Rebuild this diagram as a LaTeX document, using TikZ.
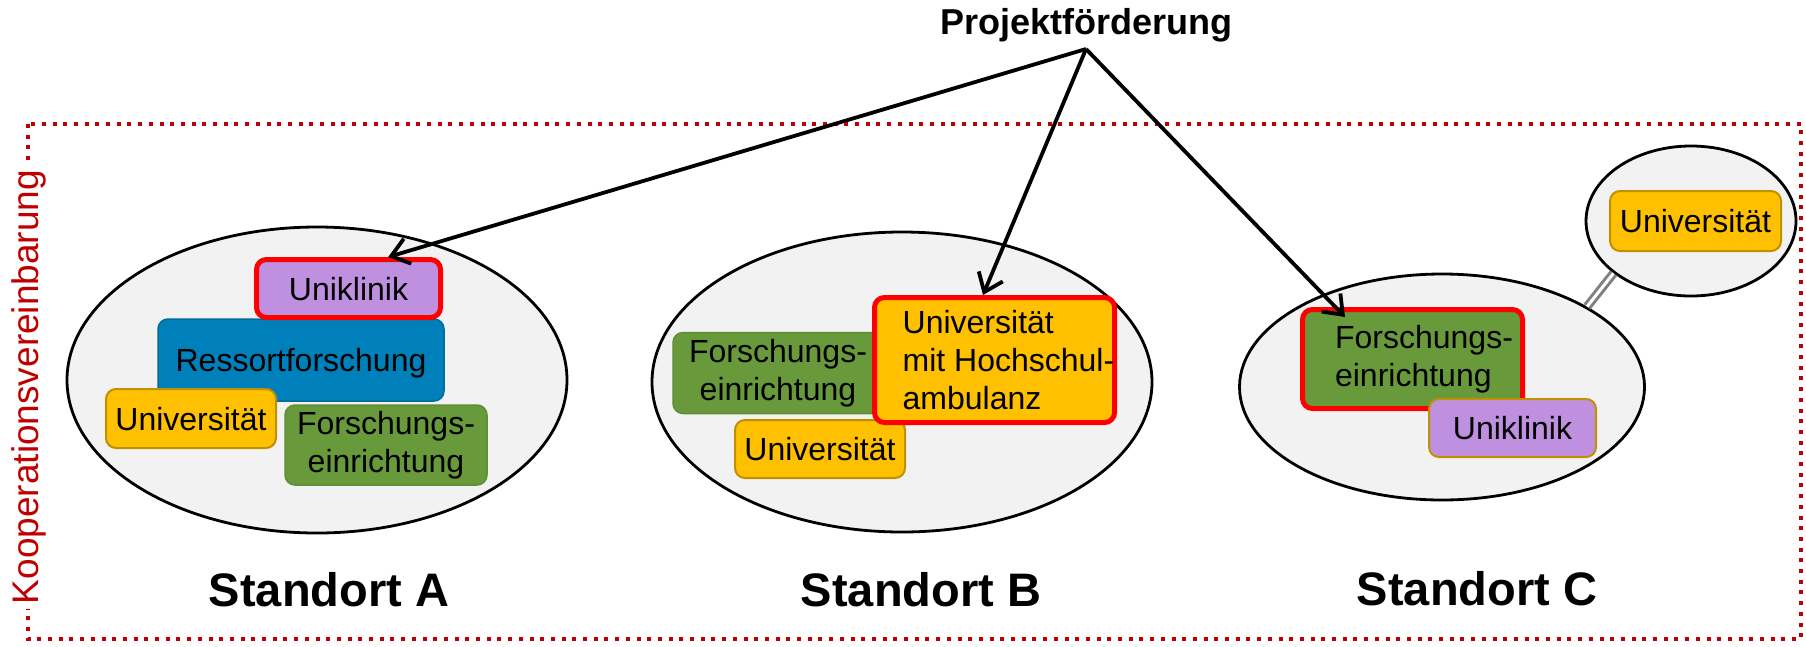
\documentclass[tikz,border=0pt]{standalone}
\usepackage{fontspec}
\setmainfont{Liberation Sans}
\usetikzlibrary{shapes.geometric,arrows.meta,calc}
\definecolor{koopred}{HTML}{C00000}
\definecolor{sitefill}{HTML}{F2F2F2}
\definecolor{uniyellow}{HTML}{FFC000}
\definecolor{uniyellowdark}{HTML}{BF9000}
\definecolor{forgreen}{HTML}{689A3B}
\definecolor{forgreendark}{HTML}{5F8E35}
\definecolor{resblue}{HTML}{0080BA}
\definecolor{resbluedark}{HTML}{006B9C}
\definecolor{klinik}{HTML}{BF90DF}
\definecolor{boxred}{HTML}{FF0000}
\definecolor{linkgray}{HTML}{808080}
\begin{document}
\begin{tikzpicture}[x=1pt,y=-1pt,
  box/.style={rectangle, rounded corners=10pt, inner sep=0pt, align=center, font=\fontsize{32}{38}\selectfont},
  oneline/.style={text height=23pt, text depth=0pt},
  redbox/.style={box, draw=boxred, line width=5pt},
  yellowbox/.style={box, fill=uniyellow, draw=uniyellowdark, line width=2pt},
  greenbox/.style={box, fill=forgreen, draw=forgreendark, line width=1.5pt},
  bluebox/.style={box, fill=resblue, draw=resbluedark, line width=1.5pt},
  purplebox/.style={box, fill=klinik, draw=uniyellowdark, line width=2pt},
  site/.style={ellipse, draw=black, line width=2.8pt, fill=sitefill, inner sep=0pt},
  sitelabel/.style={font=\fontsize{47}{56}\selectfont\bfseries, anchor=base},
  fundarrow/.style={line width=3.8pt, arrows={-{Straight Barb[length=17pt,width=26pt]}}},
  frame/.style={draw=koopred, line width=4pt, dash pattern=on 4pt off 6.7pt},
  link/.style={draw=linkgray, line width=3pt, double=white, double distance=3pt}
]
\useasboundingbox (0,0) rectangle (1806,646);

% cooperation frame
\draw[frame] (28,124) rectangle (1801,639);
\node[rotate=90, anchor=base, fill=white, text=koopred, inner sep=5pt,
      font=\fontsize{37}{44}\selectfont] (koop) at (38,387) {Kooperationsvereinbarung};

% sites
\node[site, minimum width=500pt, minimum height=306pt] (siteA) at (317,380) {};
\node[site, minimum width=500pt, minimum height=300pt] (siteB) at (902,382) {};
\node[site, minimum width=405pt, minimum height=226pt] (siteC) at (1442,387) {};
\node[site, minimum width=210pt, minimum height=150pt] (siteC2) at (1691,221) {};
\draw[link] (siteC.29) -- (siteC2.214);

% Standort A
\node[bluebox, oneline, minimum width=286pt, minimum height=82pt] (resA) at (301,360) {Ressortforschung};
\node[redbox, oneline, fill=klinik, minimum width=184pt, minimum height=58pt] (uniA) at (348.5,288.5) {Uniklinik};
\node[yellowbox, oneline, minimum width=170pt, minimum height=59pt] (univA) at (191,418.5) {Universität};
\node[greenbox, minimum width=202pt, minimum height=80pt] (forA) at (386,445) {Forschungs-\\einrichtung};

% Standort B
\node[greenbox, minimum width=210pt, minimum height=81pt] (forB) at (778,373) {Forschungs-\\einrichtung};
\node[yellowbox, oneline, minimum width=170pt, minimum height=58pt] (univB) at (820,449) {Universität};
\node[redbox, fill=uniyellow, minimum width=240pt, minimum height=125pt, align=left] (uniB) at (994.5,360)
  {\hspace*{28pt}Universität\\\hspace*{28pt}mit Hochschul-\\\hspace*{28pt}ambulanz};

% Standort C
\node[redbox, fill=forgreen, minimum width=220pt, minimum height=99pt, align=left] (forC) at (1412.5,359)
  {\hspace*{23pt}Forschungs-\\\hspace*{23pt}einrichtung};
\node[purplebox, oneline, minimum width=167pt, minimum height=58pt] (uklC) at (1512.5,428) {Uniklinik};
\node[yellowbox, oneline, minimum width=171pt, minimum height=60pt] (univC) at (1695.5,221) {Universität};

% labels
\node[sitelabel] (labA) at (329,606) {Standort A};
\node[sitelabel] (labB) at (921,606) {Standort B};
\node[sitelabel] (labC) at (1477,605) {Standort C};

% funding
\node[font=\fontsize{36}{43}\selectfont\bfseries, anchor=base] (fund) at (1086,34) {Projektförderung};
\coordinate (apex) at (1086,49);
\coordinate (tipA) at ($(uniA.north west)!0.71!(uniA.north east)$);
\coordinate (tipB) at ($(uniB.north west)!0.453!(uniB.north east)$);
\coordinate (tipC) at ($(forC.north west)+(45,10)$);
\draw[fundarrow] (apex) -- (tipA);
\draw[fundarrow] (apex) -- (tipB);
\draw[fundarrow] (apex) -- (tipC);
\end{tikzpicture}
\end{document}
